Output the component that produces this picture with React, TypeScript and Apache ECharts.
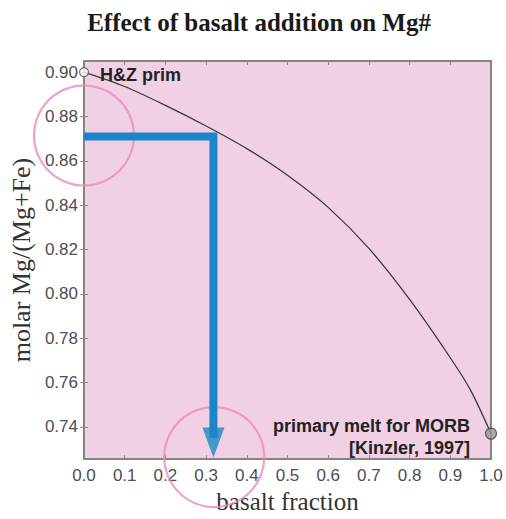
import { useEffect, useRef } from 'react';
import * as echarts from 'echarts';
import type { EChartsOption } from 'echarts';

// mixing curve: basalt fraction vs molar Mg/(Mg+Fe)
const basaltFraction = [0, 0.1, 0.2, 0.3, 0.4, 0.5, 0.6, 0.7, 0.8, 0.9, 0.95, 1.0];
const mgNumber = [0.9, 0.8935, 0.885, 0.8757, 0.8655, 0.8535, 0.839, 0.8205, 0.7975, 0.7712, 0.7565, 0.737];

const yTicks = [0.74, 0.76, 0.78, 0.8, 0.82, 0.84, 0.86, 0.88, 0.9];

// blue guide: read-off Mg# -> basalt fraction
const guideMg = 0.871;
const guideFraction = 0.318;
const guideEnd = 0.735;
const arrowHead = 0.733;

// pink highlight circles
const highlights: [number, number][] = [
  [0, 0.8714],
  [0.32, 0.7264],
];

const endMembers = {
  start: [0, 0.9],
  end: [1, 0.737],
};

const tickFont = { fontFamily: 'Liberation Sans, Arial, sans-serif', fontSize: 17, color: '#4e4e4e' };
const serif = 'Liberation Serif, Times New Roman, serif';

export default function App() {
  const chartRef = useRef<HTMLDivElement>(null);

  useEffect(() => {
    if (!chartRef.current) return;
    const chart = echarts.init(chartRef.current, undefined, { renderer: 'svg' });

    const option: EChartsOption = {
      animation: false,
      backgroundColor: '#ffffff',
      grid: {
        left: 82,
        right: 15,
        top: 61,
        bottom: 50,
        show: true,
        backgroundColor: '#f1d0e4',
        borderColor: '#858585',
        borderWidth: 2,
      },
      graphic: [
        {
          type: 'text',
          x: 259,
          y: 22,
          style: {
            text: 'Effect of basalt addition on Mg#',
            font: `bold 25px ${serif}`,
            fill: '#1a1a1a',
            align: 'center',
            verticalAlign: 'middle',
          },
        },
        {
          type: 'text',
          x: 100,
          y: 75,
          z: 10,
          style: {
            text: 'H&Z prim',
            font: 'bold 18px Liberation Sans, Arial, sans-serif',
            fill: '#222',
            align: 'left',
            verticalAlign: 'middle',
          },
        },
        {
          type: 'text',
          x: 470,
          y: 426,
          z: 10,
          style: {
            text: 'primary melt for MORB',
            font: 'bold 18px Liberation Sans, Arial, sans-serif',
            fill: '#222',
            align: 'right',
            verticalAlign: 'middle',
          },
        },
        {
          type: 'text',
          x: 470,
          y: 448,
          z: 10,
          style: {
            text: '[Kinzler, 1997]',
            font: 'bold 18px Liberation Sans, Arial, sans-serif',
            fill: '#222',
            align: 'right',
            verticalAlign: 'middle',
          },
        },
      ],
      xAxis: [
        {
          type: 'value',
          min: 0,
          max: 1,
          interval: 0.1,
          name: 'basalt fraction',
          nameLocation: 'middle',
          nameGap: 28,
          nameTextStyle: { fontFamily: serif, fontSize: 25, color: '#333', verticalAlign: 'top' },
          axisLine: { show: false },
          axisTick: { inside: true, length: 4, lineStyle: { color: '#888' } },
          axisLabel: { ...tickFont, margin: 8, formatter: (v: number) => v.toFixed(1) },
          splitLine: { show: false },
        },
        {
          type: 'value',
          position: 'top',
          min: 0,
          max: 1,
          interval: 0.1,
          axisLine: { show: false },
          axisTick: { inside: true, length: 4, lineStyle: { color: '#888' } },
          axisLabel: { show: false },
          splitLine: { show: false },
        },
      ],
      yAxis: [
        {
          type: 'value',
          min: 0.7255,
          max: 0.905,
          name: 'molar Mg/(Mg+Fe)',
          nameLocation: 'middle',
          nameGap: 47,
          nameRotate: 90,
          nameTextStyle: { fontFamily: serif, fontSize: 26, color: '#333' },
          axisLine: { show: false },
          axisTick: { inside: true, length: 4, customValues: yTicks, lineStyle: { color: '#888' } },
          axisLabel: { ...tickFont, margin: 6, customValues: yTicks, formatter: (v: number) => v.toFixed(2) },
          splitLine: { show: false },
        },
        {
          type: 'value',
          position: 'right',
          min: 0.7255,
          max: 0.905,
          axisLine: { show: false },
          axisTick: { inside: true, length: 4, customValues: yTicks, lineStyle: { color: '#888' } },
          axisLabel: { show: false, customValues: yTicks },
          splitLine: { show: false },
        },
      ],
      series: [
        {
          type: 'scatter',
          clip: false,
          symbol: 'circle',
          symbolSize: 100,
          itemStyle: { color: 'rgba(0,0,0,0)', borderColor: '#ea8bbd', borderWidth: 2.2 },
          z: 1,
          data: highlights,
        },
        {
          type: 'line',
          smooth: 0.3,
          showSymbol: false,
          lineStyle: { color: '#3a3a3a', width: 1.3 },
          z: 2,
          data: basaltFraction.map((f, i) => [f, mgNumber[i]]),
        },
        {
          type: 'line',
          showSymbol: false,
          lineStyle: { color: '#1a86c8', width: 8, cap: 'butt', join: 'miter' },
          z: 3,
          data: [
            [0, guideMg],
            [guideFraction, guideMg],
            [guideFraction, guideEnd],
          ],
        },
        {
          type: 'scatter',
          clip: false,
          symbol: 'triangle',
          symbolRotate: 180,
          symbolSize: [22, 30],
          itemStyle: { color: '#1a86c8' },
          z: 4,
          data: [[guideFraction, arrowHead]],
        },
        {
          type: 'scatter',
          clip: false,
          z: 5,
          data: [
            {
              value: endMembers.start,
              symbolSize: 9,
              itemStyle: { color: '#ffffff', borderColor: '#555', borderWidth: 1.2 },
            },
            {
              value: endMembers.end,
              symbolSize: 11,
              itemStyle: { color: '#9a9a9a', borderColor: '#444', borderWidth: 1.2 },
            },
          ],
        },
      ],
    };

    chart.setOption(option);
    return () => {
      chart.dispose();
    };
  }, []);

  return (
    <div
      ref={chartRef}
      style={{ position: 'fixed', left: 0, top: 0, width: 506, height: 519 }}
    />
  );
}
